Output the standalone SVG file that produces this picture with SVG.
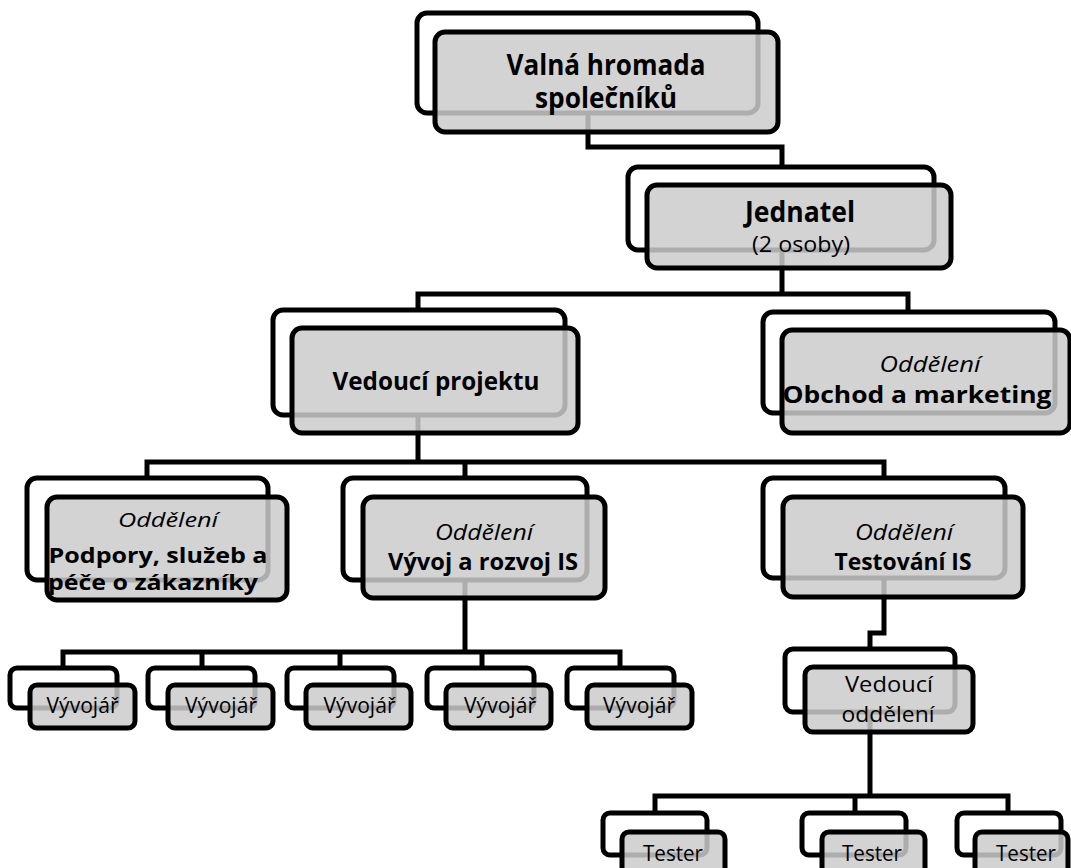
<svg xmlns="http://www.w3.org/2000/svg" width="1071" height="868" viewBox="0 0 1071 868">
<style>
.back{fill:#fff;stroke:#000;stroke-width:5}
.front{fill:#cbcbcb;fill-opacity:0.85;stroke:#000;stroke-width:5}
.conn{fill:none;stroke:#000;stroke-width:5;stroke-linejoin:miter}
text{font-family:"Open Sans","Noto Sans","Liberation Sans",sans-serif;fill:#000;text-anchor:middle}
.b{font-weight:bold}
.i{font-style:italic}
</style>
<rect width="1071" height="868" fill="#fff"/>
<g id="connectors">
<path class="conn" d="M588,113 V147 H782 V167"/>
<path class="conn" d="M782,250 V294 M418,310 V294 H908 V312"/>
<path class="conn" d="M418,415 V462 M147,478 V462 H884 V478 M465,462 V478"/>
<path class="conn" d="M465,580 V652 M63,668 V652 H620 V668 M202,652 V668 M340,652 V668 M482,652 V668"/>
<path class="conn" d="M884,578 V633 H870 V649"/>
<path class="conn" d="M870,712 V796 M655,813 V796 H1008 V813 M855,796 V813"/>
</g>
<g id="n-valna">
<rect class="back" x="417" y="13" width="341" height="100" rx="10"/>
<rect class="front" x="435" y="32" width="343" height="100" rx="10"/>
<text class="b" font-size="28" x="606" y="75" textLength="199" lengthAdjust="spacingAndGlyphs">Valná hromada</text>
<text class="b" font-size="28" x="606" y="108" textLength="142" lengthAdjust="spacingAndGlyphs">společníků</text>
</g>
<g id="n-jednatel">
<rect class="back" x="628" y="167" width="306" height="83" rx="10"/>
<rect class="front" x="647" y="185" width="304" height="83" rx="10"/>
<text class="b" font-size="28" x="800" y="222" textLength="110" lengthAdjust="spacingAndGlyphs">Jednatel</text>
<text font-size="21" x="801" y="252" textLength="98" lengthAdjust="spacingAndGlyphs">(2 osoby)</text>
</g>
<g id="n-vedouci-projektu">
<rect class="back" x="273" y="310" width="292" height="105" rx="10"/>
<rect class="front" x="292" y="328" width="286" height="105" rx="10"/>
<text class="b" font-size="25" x="436" y="390" textLength="207" lengthAdjust="spacingAndGlyphs">Vedoucí projektu</text>
</g>
<g id="n-obchod">
<rect class="back" x="763" y="312" width="292" height="101" rx="10"/>
<rect class="front" x="782" y="330" width="288" height="103" rx="10"/>
<text class="i" font-size="21" x="930" y="372" textLength="101" lengthAdjust="spacingAndGlyphs">Oddělení</text>
<text class="b" font-size="23" x="917" y="403" textLength="269" lengthAdjust="spacingAndGlyphs">Obchod a marketing</text>
</g>
<g id="n-podpory">
<rect class="back" x="27" y="478" width="241" height="102" rx="10"/>
<rect class="front" x="47" y="497" width="240" height="103" rx="10"/>
<text class="i" font-size="20" x="168" y="527" textLength="100" lengthAdjust="spacingAndGlyphs">Oddělení</text>
<text class="b" font-size="21" x="158" y="563" textLength="219" lengthAdjust="spacingAndGlyphs">Podpory, služeb a</text>
<text class="b" font-size="21" x="153" y="590" textLength="210" lengthAdjust="spacingAndGlyphs">péče o zákazníky</text>
</g>
<g id="n-vyvoj">
<rect class="back" x="343" y="478" width="244" height="102" rx="10"/>
<rect class="front" x="363" y="497" width="242" height="101" rx="10"/>
<text class="i" font-size="21" x="484" y="540" textLength="98" lengthAdjust="spacingAndGlyphs">Oddělení</text>
<text class="b" font-size="23" x="483" y="570" textLength="190" lengthAdjust="spacingAndGlyphs">Vývoj a rozvoj IS</text>
</g>
<g id="n-testovani">
<rect class="back" x="763" y="478" width="242" height="100" rx="10"/>
<rect class="front" x="783" y="497" width="240" height="100" rx="10"/>
<text class="i" font-size="21" x="904" y="540" textLength="98" lengthAdjust="spacingAndGlyphs">Oddělení</text>
<text class="b" font-size="23" x="903" y="570" textLength="137" lengthAdjust="spacingAndGlyphs">Testování IS</text>
</g>
<g id="n-vedouci-oddeleni">
<rect class="back" x="785" y="649" width="170" height="63" rx="8"/>
<rect class="front" x="805" y="667" width="168" height="65" rx="8"/>
<text font-size="22" x="889" y="692" textLength="88" lengthAdjust="spacingAndGlyphs">Vedoucí</text>
<text font-size="22" x="888" y="722" textLength="93" lengthAdjust="spacingAndGlyphs">oddělení</text>
</g>
<g id="n-vyvojar1">
<rect class="back" x="10" y="668" width="107" height="40" rx="7"/>
<rect class="front" x="30" y="685" width="105" height="43" rx="7"/>
<text font-size="22" x="82.5" y="713" textLength="72" lengthAdjust="spacingAndGlyphs">Vývojář</text>
</g>
<g id="n-vyvojar2">
<rect class="back" x="148" y="668" width="107" height="40" rx="7"/>
<rect class="front" x="168" y="685" width="105" height="43" rx="7"/>
<text font-size="22" x="221" y="713" textLength="72" lengthAdjust="spacingAndGlyphs">Vývojář</text>
</g>
<g id="n-vyvojar3">
<rect class="back" x="287" y="668" width="107" height="40" rx="7"/>
<rect class="front" x="306" y="685" width="105" height="43" rx="7"/>
<text font-size="22" x="359.5" y="713" textLength="72" lengthAdjust="spacingAndGlyphs">Vývojář</text>
</g>
<g id="n-vyvojar4">
<rect class="back" x="427" y="668" width="107" height="40" rx="7"/>
<rect class="front" x="446" y="685" width="105" height="43" rx="7"/>
<text font-size="22" x="500" y="713" textLength="72" lengthAdjust="spacingAndGlyphs">Vývojář</text>
</g>
<g id="n-vyvojar5">
<rect class="back" x="567" y="668" width="107" height="40" rx="7"/>
<rect class="front" x="587" y="685" width="105" height="43" rx="7"/>
<text font-size="22" x="639" y="713" textLength="72" lengthAdjust="spacingAndGlyphs">Vývojář</text>
</g>
<g id="n-tester1">
<rect class="back" x="603" y="813" width="104" height="42" rx="7"/>
<rect class="front" x="622" y="832" width="103" height="45" rx="7"/>
<text font-size="22" x="673" y="861" textLength="60" lengthAdjust="spacingAndGlyphs">Tester</text>
</g>
<g id="n-tester2">
<rect class="back" x="802" y="813" width="104" height="42" rx="7"/>
<rect class="front" x="822" y="832" width="103" height="45" rx="7"/>
<text font-size="22" x="872" y="861" textLength="60" lengthAdjust="spacingAndGlyphs">Tester</text>
</g>
<g id="n-tester3">
<rect class="back" x="957" y="813" width="104" height="42" rx="7"/>
<rect class="front" x="975" y="832" width="93" height="45" rx="7"/>
<text font-size="22" x="1026" y="861" textLength="60" lengthAdjust="spacingAndGlyphs">Tester</text>
</g>
</svg>
